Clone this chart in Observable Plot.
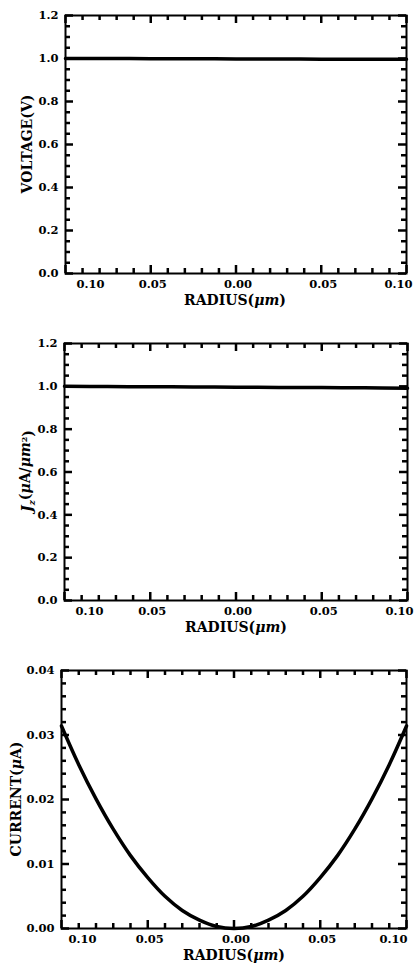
<!DOCTYPE html>
<html><head><meta charset="utf-8">
<script src="https://cdn.jsdelivr.net/npm/d3@7"></script>
<script src="https://cdn.jsdelivr.net/npm/@observablehq/plot@0.6"></script>
<style>body{margin:0;background:#fff;} svg{display:block;}</style>
</head><body><div id="chart"></div>
<script>
// Panel 1 & 2 data: radius (µm) vs voltage and current density
const radiusFlat = [-0.1, -0.075, -0.05, -0.025, 0, 0.025, 0.05, 0.075, 0.1];
const voltage = [1.0, 1.0, 0.999, 0.999, 0.998, 0.998, 0.997, 0.997, 0.996];
const currentDensity = [1.0, 0.999, 0.998, 0.997, 0.996, 0.995, 0.994, 0.993, 0.991];
// Panel 3 data: radius vs enclosed current
const radiusCurve = [-0.1, -0.09, -0.08, -0.07, -0.06, -0.05, -0.04, -0.03, -0.02, -0.01, 0,
  0.01, 0.02, 0.03, 0.04, 0.05, 0.06, 0.07, 0.08, 0.09, 0.1];
const current = [0.0314, 0.0254, 0.0201, 0.0154, 0.0113, 0.0079, 0.0050, 0.0028, 0.0013, 0.0003, 0.0000,
  0.0003, 0.0013, 0.0028, 0.0050, 0.0079, 0.0113, 0.0154, 0.0201, 0.0254, 0.0314];
// Tick labels
const xTicks = [-0.1, -0.05, 0, 0.05, 0.1];
const yTicksUnit = [0, 0.2, 0.4, 0.6, 0.8, 1.0, 1.2];
const yTicksCurrent = [0, 0.01, 0.02, 0.03, 0.04];
// Minor tick positions
const xMinor = [-0.09, -0.08, -0.07, -0.06, -0.04, -0.03, -0.02, -0.01, 0.01, 0.02, 0.03, 0.04, 0.06, 0.07, 0.08, 0.09];
const yMinorUnit = [0.05, 0.1, 0.15, 0.25, 0.3, 0.35, 0.45, 0.5, 0.55, 0.65, 0.7, 0.75, 0.85, 0.9, 0.95, 1.05, 1.1, 1.15];
const yMinorCurrent = [0.002, 0.004, 0.006, 0.008, 0.012, 0.014, 0.016, 0.018, 0.022, 0.024, 0.026, 0.028, 0.032, 0.034, 0.036, 0.038];

const FONT = "DejaVu Serif";
const TICKFS = 11.5;
const xDomain = [-0.1, 0.1];

// inward tick marks on all four sides, lengths converted from pixels to data units
function tickMarks(pw, ph, yDomain, xMaj, xMin, yMaj, yMin) {
  const [x0, x1] = xDomain, [y0, y1] = yDomain;
  const kx = (x1 - x0) / pw, ky = (y1 - y0) / ph;
  const xt = [...xMaj.map(v => ({v, L: 8})), ...xMin.map(v => ({v, L: 5}))];
  const yt = [...yMaj.map(v => ({v, L: 8})), ...yMin.map(v => ({v, L: 5}))];
  const st = {stroke: "#000", strokeWidth: 2.5};
  return [
    Plot.ruleX(xt, {x: "v", y1: () => y0, y2: d => y0 + d.L * ky, ...st}),
    Plot.ruleX(xt, {x: "v", y1: () => y1, y2: d => y1 - d.L * ky, ...st}),
    Plot.ruleY(yt, {y: "v", x1: () => x0, x2: d => x0 + d.L * kx, ...st}),
    Plot.ruleY(yt, {y: "v", x1: () => x1, x2: d => x1 - d.L * kx, ...st})
  ];
}

function xLabels(dxLeft, dxRight) {
  const o = {anchor: "bottom", tickSize: 0, tickPadding: 6, label: null, fontSize: TICKFS,
    tickFormat: d => Math.abs(d).toFixed(2)};
  return [
    Plot.axisX([xTicks[0]], {...o, dx: dxLeft}),
    Plot.axisX(xTicks.slice(1, -1), {...o, dx: 2}),
    Plot.axisX([xTicks[xTicks.length - 1]], {...o, dx: dxRight})
  ];
}

function addXLabel(svg, x, y) {
  const t = d3.select(svg).append("text")
    .attr("x", x).attr("y", y).attr("dy", "0.35em")
    .attr("text-anchor", "middle")
    .attr("font-family", FONT).attr("font-weight", "bold").attr("font-size", 14)
    .attr("fill", "black");
  t.append("tspan").text("RADIUS(");
  t.append("tspan").attr("font-style", "italic").text("μm");
  t.append("tspan").text(")");
}

function addYLabel(svg, x, y, parts) {
  const t = d3.select(svg).append("text")
    .attr("transform", `translate(${x},${y}) rotate(-90)`)
    .attr("dy", "0.35em")
    .attr("text-anchor", "middle")
    .attr("font-family", FONT).attr("font-weight", "bold").attr("font-size", 14)
    .attr("fill", "black");
  for (const p of parts) {
    const s = t.append("tspan").text(p.text);
    if (p.italic) s.attr("font-style", "italic");
    if (p.dy) s.attr("dy", p.dy);
    if (p.size) s.attr("font-size", p.size);
  }
}

function panel({height, mt, mb, ml, mr, xData, yData, yDomain, yMaj, yMin, yFmt, dxL, dxR, sw}) {
  const data = xData.map((r, i) => ({r, v: yData[i]}));
  const pw = 417 - ml - mr, ph = height - mt - mb;
  return Plot.plot({
    width: 417, height,
    marginTop: mt, marginBottom: mb, marginLeft: ml, marginRight: mr,
    style: {fontFamily: FONT, fontWeight: "bold", fontSize: TICKFS + "px", color: "black", background: "white"},
    x: {domain: xDomain, axis: null},
    y: {domain: yDomain, axis: null},
    marks: [
      Plot.axisY(yMaj, {anchor: "left", tickSize: 0, tickPadding: 7, label: null, fontSize: TICKFS, tickFormat: yFmt}),
      ...xLabels(dxL, dxR),
      Plot.line(data, {x: "r", y: "v", stroke: "black", strokeWidth: sw, curve: "catmull-rom"}),
      ...tickMarks(pw, ph, yDomain, xTicks, xMinor, yMaj, yMin),
      Plot.frame({stroke: "black", strokeWidth: 2})
    ]
  });
}

const root = document.getElementById("chart");

const p1 = panel({height: 320, mt: 15, mb: 47, ml: 65, mr: 11,
  xData: radiusFlat, yData: voltage, yDomain: [0, 1.2],
  yMaj: yTicksUnit, yMin: yMinorUnit,
  yFmt: d => d.toFixed(1), dxL: 25, dxR: -8, sw: 3.5});
addXLabel(p1, 235, 300);
addYLabel(p1, 27, 144, [{text: "VOLTAGE(V)"}]);
root.append(p1);

const p2 = panel({height: 320, mt: 23, mb: 40, ml: 64, mr: 10,
  xData: radiusFlat, yData: currentDensity, yDomain: [0, 1.2],
  yMaj: yTicksUnit, yMin: yMinorUnit,
  yFmt: d => d.toFixed(1), dxL: 25, dxR: -8, sw: 3.5});
addXLabel(p2, 236, 307);
addYLabel(p2, 27, 151, [
  {text: "J", italic: true},
  {text: "z", italic: true, dy: "0.3em", size: 9},
  {text: "(", dy: "-0.3em"},
  {text: "μ", italic: true},
  {text: "A/"},
  {text: "μm", italic: true},
  {text: "2", dy: "-0.45em", size: 8},
  {text: ")", dy: "0.45em"}
]);
root.append(p2);

const p3 = panel({height: 323, mt: 30, mb: 35, ml: 61, mr: 11,
  xData: radiusCurve, yData: current, yDomain: [0, 0.04],
  yMaj: yTicksCurrent, yMin: yMinorCurrent,
  yFmt: d => d.toFixed(2), dxL: 21, dxR: -13, sw: 3.5});
addXLabel(p3, 234, 315);
addYLabel(p3, 16, 159, [{text: "CURRENT("}, {text: "μ", italic: true}, {text: "A)"}]);
root.append(p3);
</script>
</body></html>
